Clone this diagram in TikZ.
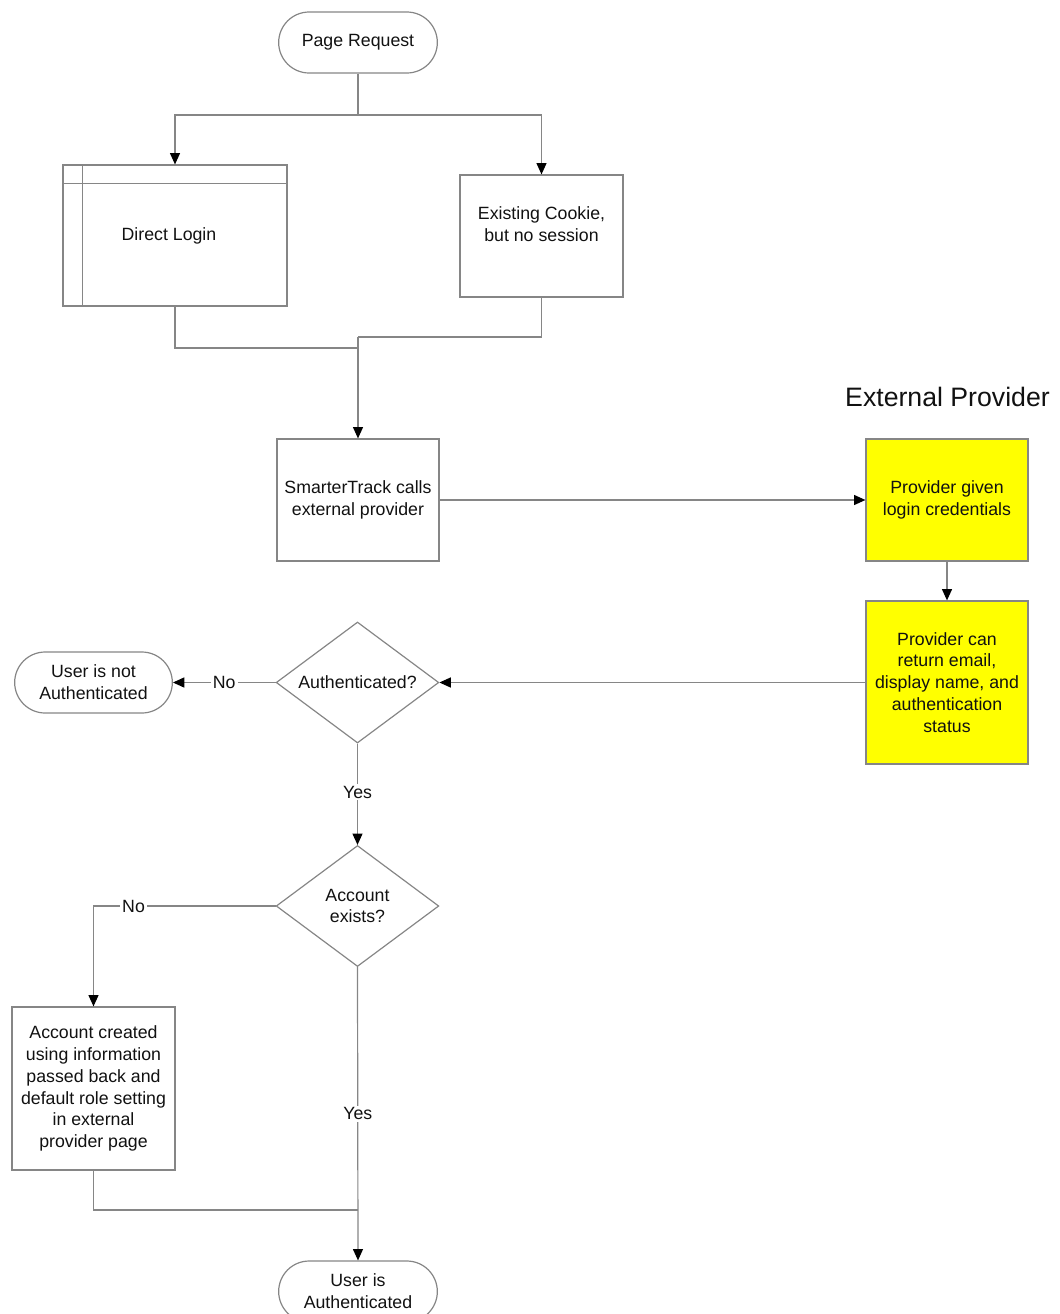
\documentclass[tikz,border=0pt]{standalone}
\usepackage{fontspec}
\setmainfont{Liberation Sans}
\usetikzlibrary{arrows.meta,shapes.geometric,shapes.misc}

\definecolor{edge}{HTML}{868686}
\definecolor{ink}{HTML}{111111}
\definecolor{provider}{HTML}{FFFF00}

\tikzset{
  base/.style={draw=edge, line width=0.9pt, text=ink, align=center, inner sep=2pt,
    font=\fontsize{13.3}{16.4}\selectfont},
  procbox/.style={base, rectangle},
  extbox/.style={procbox, fill=provider},
  termbox/.style={base, rounded rectangle, minimum width=123pt, minimum height=45.75pt},
  decision/.style={base, diamond, aspect=1.35, inner sep=0pt, minimum width=122pt, minimum height=90.75pt},
  caption/.style={text=ink, align=center, font=\fontsize{13.3}{16.4}\selectfont},
  conn/.style={draw=edge, line width=0.9pt},
  flow/.style={conn, -{Triangle[length=8.5pt,width=7.5pt,color=black]}},
  lbl/.style={fill=white, text=ink, inner sep=1.5pt, font=\fontsize{13.3}{16}\selectfont},
}

\begin{document}
\begin{tikzpicture}[x=0.75pt, y=-0.75pt]
\useasboundingbox (0,0) rectangle (1060,1314);
\clip (0,0) rectangle (1060,1314);

% start
\node[termbox] (pr) at (358,42.5) {Page Request};

% entry points
\node[procbox, minimum width=168pt, minimum height=105.75pt] (dl) at (175,235.5) {};
\node[caption] (dltext) at (169,236) {Direct Login};
\draw[conn] ([xshift=15pt]dl.north west) -- ([xshift=15pt]dl.south west);
\draw[conn] ([yshift=-14.25pt]dl.north west) -- ([yshift=-14.25pt]dl.north east);

\node[procbox, minimum width=122.25pt, minimum height=91.5pt] (ec) at (541.5,236) {};
\node[caption] (ectext) at (541.5,224) {Existing Cookie,\\but no session};

% provider call
\node[procbox, minimum width=121.5pt, minimum height=91.5pt] (st) at (358,500)
  {SmarterTrack calls\\external provider};

\node[text=ink, font=\fontsize{20}{24}\selectfont] (exttitle) at (947.5,397) {External Provider};
\node[extbox, minimum width=121.5pt, minimum height=91.5pt] (pg) at (947,500)
  {Provider given\\login credentials};
\node[extbox, minimum width=121.5pt, minimum height=122.25pt] (pc) at (947,682.5)
  {Provider can\\return email,\\display name, and\\authentication\\status};

% decisions
\node[decision] (auth) at (357.5,682.5) {Authenticated?};
\node[termbox, minimum width=122.25pt] (una) at (93.5,682.5) {User is not\\Authenticated};

\node[decision] (acc) at (357.5,906) {Account\\exists?};
\node[procbox, minimum width=122.25pt, minimum height=122.25pt] (ac) at (93.5,1088.5)
  {Account created\\using information\\passed back and\\default role setting\\in external\\provider page};

\node[termbox] (ua) at (358,1291.5) {User is\\Authenticated};

% junction points
\coordinate (split) at (358,115);
\coordinate (merge) at (358,337);
\coordinate (joinA) at (358,348);
\coordinate (joinB) at (358,1210);

% connectors
\draw[conn] (pr.south) -- (split);
\draw[flow] (split) -| (dl.north);
\draw[flow] (split) -| (ec.north);
\draw[conn] (dl.south) |- (joinA);
\draw[conn] (ec.south) |- (merge);
\draw[flow] (merge) -- (st.north);
\draw[flow] (st.east) -- (pg.west);
\draw[flow] (pg.south) -- (pc.north);
\draw[flow] (pc.west) -- (auth.east);
\draw[flow] (auth.west) -- node[lbl] {No} (una.east);
\draw[flow] (auth.south) -- node[lbl, pos=0.48] {Yes} (acc.north);
\draw[flow] (acc.west) -| node[lbl, pos=0.39] {No} (ac.north);
\draw[flow] (acc.south) -- node[lbl] {Yes} (ua.north);
\draw[conn] (ac.south) |- (joinB);
\end{tikzpicture}
\end{document}
